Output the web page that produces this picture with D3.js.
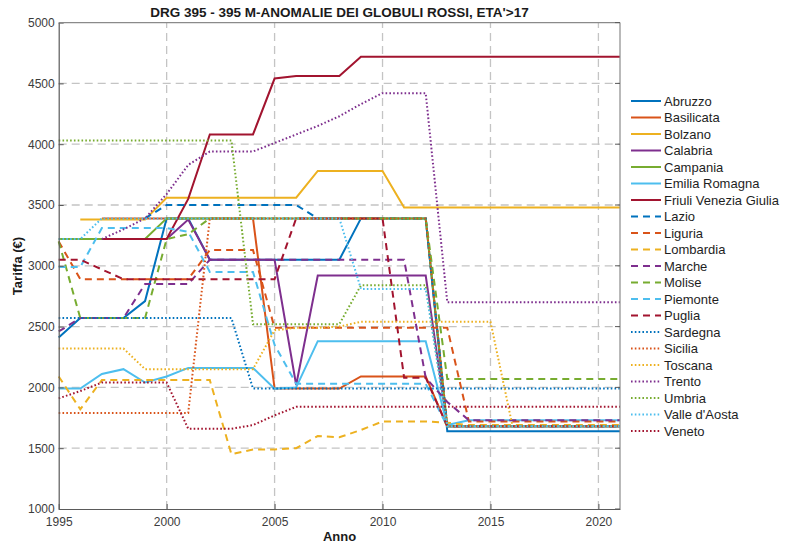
<!DOCTYPE html>
<html>
<head>
<meta charset="utf-8">
<script src="https://cdn.jsdelivr.net/npm/d3@7"></script>
<style>
body{margin:0;background:#fff;}
text{font-family:"Liberation Sans",Arial,sans-serif;}
</style>
</head>
<body>
<div id="chart"></div>
<script>
var years=d3.range(1995,2022);
var xTicks=[1995,2000,2005,2010,2015,2020];
var yTicks=[1000,1500,2000,2500,3000,3500,4000,4500,5000];
var regions=["Abruzzo","Basilicata","Bolzano","Calabria","Campania","Emilia Romagna","Friuli Venezia Giulia",
  "Lazio","Liguria","Lombardia","Marche","Molise","Piemonte","Puglia",
  "Sardegna","Sicilia","Toscana","Trento","Umbria","Valle d'Aosta","Veneto"];
var N=null;
// one row per region, 1995..2021
var abruzzo=[2410,2570,2570,2570,2710,3390,3390,3050,3050,3050,3050,3050,3050,3050,3390,3390,3390,3390,1640,1640,1640,1640,1640,1640,1640,1640,1640];
var basilicata=[N,N,3390,3390,3390,3390,3390,3390,3390,3390,1990,1990,1990,1990,2090,2090,2090,2090,1680,1680,1680,1680,1680,1680,1680,1680,1680];
var bolzano=[N,3380,3380,3380,3380,3560,3560,3560,3560,3560,3560,3560,3780,3780,3780,3780,3480,3480,3480,3480,3480,3480,3480,3480,3480,3480,3480];
var calabria=[N,N,3220,3220,3220,3220,3380,3050,3050,3050,3050,2020,2920,2920,2920,2920,2920,2920,1680,1680,1680,1680,1680,1680,1680,1680,1680];
var campania=[3220,3220,3220,3220,3220,3390,3390,3390,3390,3390,3390,3390,3390,3390,3390,3390,3390,3390,1680,1680,1680,1680,1680,1680,1680,1680,1680];
var emilia=[1990,1990,2110,2150,2040,2090,2160,2160,2160,2160,1990,2000,2380,2380,2380,2380,2380,2380,1690,1730,1730,1730,1730,1730,1730,1730,1730];
var friuli=[N,N,3220,3220,3220,3220,3550,4080,4080,4080,4540,4560,4560,4560,4720,4720,4720,4720,4720,4720,4720,4720,4720,4720,4720,4720,4720];
var lazio=[N,N,N,N,3390,3500,3500,3500,3500,3500,3500,3500,3390,3390,3390,3390,3390,3390,1680,1680,1680,1680,1680,1680,1680,1680,1680];
var liguria=[3200,2890,2890,2890,2890,2890,2890,3130,3130,3130,2490,2490,2490,2490,2490,2490,2490,2490,2490,1720,1720,1720,1720,1720,1720,1720,1720];
var lombardia=[2090,1820,2060,2060,2060,2060,2060,2060,1450,1490,1490,1500,1600,1590,1650,1720,1720,1720,1710,1690,1690,1690,1690,1690,1690,1690,1690];
var marche=[2460,2570,2570,2570,2850,2850,2850,3050,3050,3050,3050,3050,3050,3050,3050,3050,3050,2080,1880,1730,1730,1730,1730,1730,1730,1730,1730];
var molise=[3200,2570,2570,2570,2570,3220,3260,3390,3390,3390,3390,3390,3390,3390,3390,3390,3390,3390,2070,2070,2070,2070,2070,2070,2070,2070,2070];
var piemonte=[2990,2990,3310,3310,3310,3310,3280,2950,2950,2950,2350,2030,2030,2030,2030,2030,2030,2030,1680,1680,1680,1680,1680,1680,1680,1680,1680];
var puglia=[3050,3050,2970,2890,2890,2890,2890,2890,2890,2890,2890,3390,3390,3390,3390,3390,2080,2080,1680,1680,1680,1680,1680,1680,1680,1680,1680];
var sardegna=[2570,2570,2570,2570,2570,2570,2570,2570,2570,1990,1990,1990,1990,1990,1990,1990,1990,1990,1990,1990,1990,1990,1990,1990,1990,1990,1990];
var sicilia=[1790,1790,1790,1790,1790,1790,1790,3390,3390,3390,3390,3390,3390,3390,3390,3390,3390,3390,1680,1680,1680,1680,1680,1680,1680,1680,1680];
var toscana=[2320,2320,2320,2320,2150,2150,2150,2150,2150,2150,2470,2490,2490,2500,2540,2540,2540,2540,2540,2540,2540,1700,N,N,N,N,N];
var trento=[N,N,3220,3300,3390,3590,3830,3940,3940,3940,4010,4080,4150,4230,4330,4420,4420,4420,2700,2700,2700,2700,2700,2700,2700,2700,2700];
var umbria=[4030,4030,4030,4030,4030,4030,4030,4030,4030,2520,2520,2520,2520,2520,2840,2840,2840,2840,1680,1680,1680,1680,1680,1680,1680,1680,1680];
var valle=[3220,3220,3390,3390,3390,3390,3390,3390,3390,3390,3390,3390,3390,3390,2810,2810,2810,2810,1680,1680,1680,1680,1680,1680,1680,1680,1680];
var veneto=[1910,1970,2040,2040,2040,2040,1660,1660,1660,1690,1770,1840,1840,1840,1840,1840,1840,1840,1840,1840,1840,1840,1840,1840,1840,1840,1840];

var values=[abruzzo,basilicata,bolzano,calabria,campania,emilia,friuli,lazio,liguria,lombardia,marche,
  molise,piemonte,puglia,sardegna,sicilia,toscana,trento,umbria,valle,veneto];
var colors=["#0072BD","#D95319","#EDB120","#7E2F8E","#77AC30","#4DBEEE","#A2142F"];
var dashes=[null,"7,5","1.6,2.2"];

var W=790,H=547;
var svg=d3.select("#chart").append("svg").attr("width",W).attr("height",H);
var x=d3.scaleLinear().domain([1995,2021]).range([58.7,620]);
var y=d3.scaleLinear().domain([1000,5000]).range([509,22.6]);

// grid
var grid=svg.append("g");
grid.selectAll(".gx").data(xTicks.slice(1)).enter().append("line")
  .attr("x1",d=>x(d)).attr("x2",d=>x(d)).attr("y1",y(1000)).attr("y2",y(5000))
  .attr("stroke","#c4c4c4").attr("stroke-width",1.3).attr("stroke-dasharray","8,5");
grid.selectAll(".gy").data(yTicks.slice(1,-1)).enter().append("line")
  .attr("x1",x(1995)).attr("x2",x(2021)).attr("y1",d=>y(d)).attr("y2",d=>y(d))
  .attr("stroke","#c4c4c4").attr("stroke-width",1.3).attr("stroke-dasharray","8,5");

// lines
var line=d3.line().defined(d=>d[1]!=null).x(d=>x(d[0])).y(d=>y(d[1]));
values.forEach(function(v,i){
  svg.append("path")
    .datum(years.map((yr,j)=>[yr,v[j]]))
    .attr("d",line)
    .attr("fill","none")
    .attr("stroke",colors[i%7])
    .attr("stroke-width",2)
    .attr("stroke-dasharray",dashes[Math.floor(i/7)]);
});

// axes
var ax=svg.append("g").attr("transform","translate(0,"+y(1000)+")")
  .call(d3.axisBottom(x).tickValues(xTicks).tickFormat(d3.format("d")).tickSizeInner(-5).tickSizeOuter(0).tickPadding(8));
var ay=svg.append("g").attr("transform","translate("+x(1995)+",0)")
  .call(d3.axisLeft(y).tickValues(yTicks).tickFormat(d3.format("d")).tickSizeInner(-5).tickSizeOuter(0).tickPadding(4));
[ax,ay].forEach(function(g){
  g.select(".domain").attr("stroke","#5a5a5a").attr("stroke-width",1.2);
  g.selectAll(".tick line").attr("stroke","#5a5a5a");
  g.selectAll(".tick text").attr("fill","#3c3c3c").style("font-size","12px");
});
svg.append("line").attr("x1",x(1995)).attr("x2",x(2021)).attr("y1",y(5000)).attr("y2",y(5000))
  .attr("stroke","#8a8a8a").attr("stroke-width",1.2);
svg.append("line").attr("x1",x(2021)).attr("x2",x(2021)).attr("y1",y(5000)).attr("y2",y(1000))
  .attr("stroke","#8a8a8a").attr("stroke-width",1.2);
svg.append("g").selectAll("line").data(yTicks).enter().append("line")
  .attr("x1",x(2021)).attr("x2",x(2021)-5).attr("y1",d=>y(d)).attr("y2",d=>y(d)).attr("stroke","#5a5a5a");

// labels
svg.append("text").attr("x",339.5).attr("y",17).attr("text-anchor","middle")
  .style("font-size","13.5px").style("font-weight","bold").attr("fill","#1a1a1a")
  .text("DRG 395 - 395 M-ANOMALIE DEI GLOBULI ROSSI, ETA'>17");
svg.append("text").attr("x",339.5).attr("y",541).attr("text-anchor","middle")
  .style("font-size","13px").style("font-weight","bold").attr("fill","#1a1a1a").text("Anno");
svg.append("text").attr("transform","translate(22,266) rotate(-90)").attr("text-anchor","middle")
  .style("font-size","13px").style("font-weight","bold").attr("fill","#1a1a1a").text("Tariffa (€)");

// legend
var lg=svg.append("g").attr("transform","translate(631,101)");
var item=lg.selectAll("g").data(regions).enter().append("g")
  .attr("transform",(d,i)=>"translate(0,"+(i*16.5)+")");
item.append("line").attr("x1",0).attr("x2",30).attr("y1",0).attr("y2",0)
  .attr("stroke",(d,i)=>colors[i%7]).attr("stroke-width",2)
  .attr("stroke-dasharray",(d,i)=>dashes[Math.floor(i/7)]);
item.append("text").attr("x",33).attr("y",4.5).style("font-size","13px").attr("fill","#1e1e1e").text(d=>d);
</script>
</body>
</html>
